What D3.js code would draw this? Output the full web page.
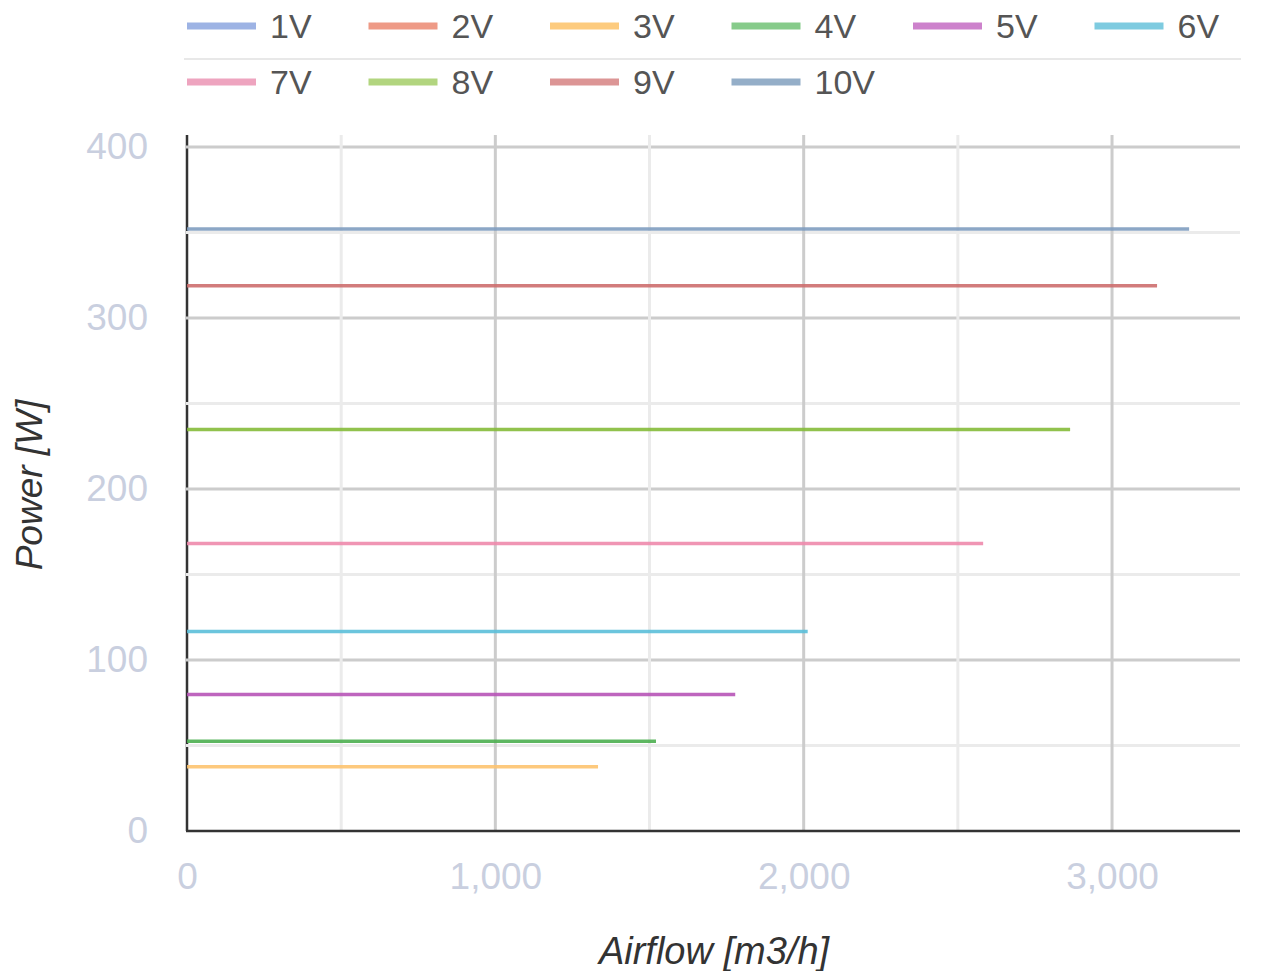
<!DOCTYPE html>
<html>
<head>
<meta charset="utf-8">
<title>Power vs Airflow</title>
<script src="https://cdn.jsdelivr.net/npm/d3@7/dist/d3.min.js"></script>
<style>
  body { margin: 0; background: #fff; }
  text { font-family: "Liberation Sans", Arial, sans-serif; }
</style>
</head>
<body>
<div id="chart"></div>
<script>
// series (voltage steps)
var seriesNames = ["1V", "2V", "3V", "4V", "5V", "6V", "7V", "8V", "9V", "10V"];
var legendColors = ["#9db3e4", "#ee9a86", "#fdcb7e", "#86cb8a", "#cd82cc",
                    "#7ecbe0", "#eea4bf", "#b2d57f", "#dc9595", "#94aec8"];
var lineColors = ["#8ea7df", "#e98870", "#fdc36f", "#4caf50", "#b754b7",
                  "#5bbfd9", "#ee8aac", "#85bb3a", "#cd6e6e", "#7f9dc0"];

// each step is a flat line: power [W] from airflow 0 up to its max airflow [m3/h]
var powerW = [null, null, 37.5, 52.5, 79.8, 116.7, 168.1, 234.8, 318.9, 352];
var airflowMax = [null, null, 1333, 1521, 1778, 2013, 2582, 2864, 3146, 3250];

// axes
var yTicks = [0, 100, 200, 300, 400];
var yGrid = [50, 100, 150, 200, 250, 300, 350, 400];
var xTicks = [0, 1000, 2000, 3000];
var xGrid = [500, 1000, 1500, 2000, 2500, 3000];

var width = 1266, height = 971;
var plotLeft = 187, plotRight = 1240, plotTop = 135, plotBottom = 831;

var x = d3.scaleLinear().domain([0, 3415]).range([plotLeft, plotRight]);
var y = d3.scaleLinear().domain([0, 407]).range([plotBottom, plotTop]);

var svg = d3.select("#chart").append("svg")
  .attr("width", width)
  .attr("height", height);

// legend
var legend = svg.append("g");
var item = legend.selectAll("g")
  .data(seriesNames)
  .enter().append("g")
  .attr("transform", function (d, i) {
    var col = i % 6, row = Math.floor(i / 6);
    return "translate(" + (187 + col * 181.5) + "," + (26 + row * 56) + ")";
  });
item.append("rect")
  .attr("x", 0).attr("y", -3.5)
  .attr("width", 69).attr("height", 7)
  .attr("fill", function (d, i) { return legendColors[i]; });
item.append("text")
  .attr("x", 83).attr("y", 11.5)
  .attr("font-size", 34)
  .attr("fill", "#555")
  .text(function (d) { return d; });
legend.append("line")
  .attr("x1", 184).attr("x2", 1241)
  .attr("y1", 59).attr("y2", 59)
  .attr("stroke", "#e8e8e8").attr("stroke-width", 2);

// y axis line (grid is drawn over it)
svg.append("line")
  .attr("x1", plotLeft).attr("x2", plotLeft)
  .attr("y1", plotTop).attr("y2", plotBottom)
  .attr("stroke", "#333").attr("stroke-width", 2.5);

// grid
svg.append("g").selectAll("line")
  .data(yGrid)
  .enter().append("line")
  .attr("x1", plotLeft - 1).attr("x2", plotRight)
  .attr("y1", function (d) { return y(d); })
  .attr("y2", function (d) { return y(d); })
  .attr("stroke", function (d) { return d % 100 === 0 ? "#cccccc" : "#ebebeb"; })
  .attr("stroke-width", 3);

svg.append("g").selectAll("line")
  .data(xGrid)
  .enter().append("line")
  .attr("x1", function (d) { return x(d); })
  .attr("x2", function (d) { return x(d); })
  .attr("y1", plotTop).attr("y2", plotBottom)
  .attr("stroke", function (d) { return d % 1000 === 0 ? "#cccccc" : "#ebebeb"; })
  .attr("stroke-width", 3);

// x axis baseline
svg.append("line")
  .attr("x1", plotLeft - 1).attr("x2", plotRight)
  .attr("y1", plotBottom).attr("y2", plotBottom)
  .attr("stroke", "#333").attr("stroke-width", 2.5);

// tick labels through d3 axes
var yAxis = svg.append("g")
  .attr("transform", "translate(" + (plotLeft - 39) + ",0)")
  .call(d3.axisLeft(y).tickValues(yTicks).tickSize(0).tickPadding(0));
yAxis.select(".domain").remove();
yAxis.selectAll("text")
  .attr("font-size", 37).attr("fill", "#c9cfdf")
  .attr("font-family", "Liberation Sans, Arial, sans-serif");

var xAxis = svg.append("g")
  .attr("transform", "translate(0," + (plotBottom + 32) + ")")
  .call(d3.axisBottom(x).tickValues(xTicks).tickSize(0).tickPadding(0)
    .tickFormat(d3.format(",")));
xAxis.select(".domain").remove();
xAxis.selectAll("text")
  .attr("font-size", 37).attr("fill", "#c9cfdf")
  .attr("font-family", "Liberation Sans, Arial, sans-serif");

// data lines
var lineGen = d3.line()
  .x(function (d) { return x(d[0]); })
  .y(function (d) { return y(d[1]); });

var series = seriesNames.map(function (name, i) {
  if (powerW[i] === null) return { name: name, pts: [] };
  return { name: name, pts: [[0, powerW[i]], [airflowMax[i], powerW[i]]] };
});

svg.append("g").selectAll("path")
  .data(series.filter(function (s) { return s.pts.length; }))
  .enter().append("path")
  .attr("d", function (s) { return lineGen(s.pts); })
  .attr("fill", "none")
  .attr("stroke", function (s) { return lineColors[seriesNames.indexOf(s.name)]; })
  .attr("stroke-width", 3.5)
  .attr("opacity", 0.9);

// axis titles
svg.append("text")
  .attr("x", 714).attr("y", 964)
  .attr("text-anchor", "middle")
  .attr("font-size", 38).attr("font-style", "italic")
  .attr("fill", "#333")
  .text("Airflow [m3/h]");

svg.append("text")
  .attr("transform", "translate(42,485) rotate(-90)")
  .attr("text-anchor", "middle")
  .attr("font-size", 37).attr("font-style", "italic")
  .attr("fill", "#333")
  .text("Power [W]");
</script>
</body>
</html>
